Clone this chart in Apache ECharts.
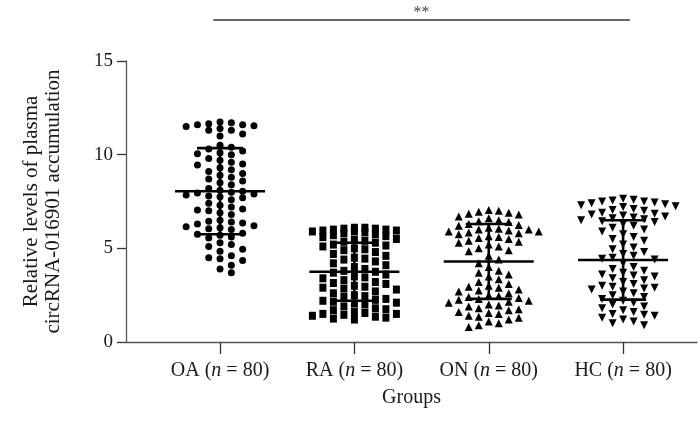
<!DOCTYPE html>
<html><head><meta charset="utf-8">
<script src="https://cdn.jsdelivr.net/npm/echarts@6/dist/echarts.min.js"></script>
<style>html,body{margin:0;padding:0;background:#fff}#c{width:698px;height:436px}</style>
</head><body><div id="c"></div>
<script>
// ---- data ----
const groups = ['OA', 'RA', 'ON', 'HC'];
const groupN = [80, 80, 80, 80];
const oaValues = [11.75, 11.7, 11.65, 11.6, 11.6, 11.55, 11.5, 11.4, 11.3, 11.3, 11.1, 11.0,
  10.5, 10.4, 10.3, 10.2, 10.1, 10.05, 10.0,
  9.8, 9.7, 9.6, 9.5, 9.45, 9.3, 9.2, 9.1, 9.0, 8.9, 8.8, 8.7, 8.6, 8.5, 8.4,
  8.2, 8.1, 8.05, 8.0, 7.95, 7.9, 7.85, 7.8, 7.75, 7.7, 7.6,
  7.4, 7.3, 7.2, 7.1, 7.05, 7.0, 6.9, 6.8,
  6.5, 6.45, 6.4, 6.35, 6.3, 6.2, 6.15, 6.1, 6.05, 6.0,
  5.8, 5.75, 5.7, 5.6, 5.55,
  5.3, 5.2, 5.1, 4.95, 4.85,
  4.6, 4.5, 4.45, 4.35,
  4.1, 3.9, 3.7];
const raValues = [6.1, 6.1, 6.05, 6.05, 6.0, 6.0, 5.95, 5.95, 5.9, 5.9, 5.85, 5.8,
  5.75, 5.7, 5.65, 5.6, 5.5, 5.45, 5.4, 5.35, 5.3,
  5.2, 5.15, 5.1, 5.0, 4.95, 4.9, 4.8, 4.7, 4.6, 4.5, 4.45,
  4.4, 4.3, 4.2, 4.1, 4.0, 3.9, 3.8, 3.75, 3.7, 3.6,
  3.5, 3.45, 3.4, 3.3, 3.2, 3.15, 3.1, 3.0, 2.95, 2.9, 2.85, 2.8,
  2.7, 2.6, 2.5, 2.45, 2.4, 2.3, 2.25, 2.2, 2.15, 2.1, 2.05, 2.0,
  1.9, 1.8, 1.75, 1.7, 1.6, 1.55, 1.5, 1.5, 1.45, 1.4, 1.35, 1.3, 1.25, 1.2];
const onValues = [7.05, 7.0, 6.95, 6.9, 6.85, 6.8, 6.7, 6.6,
  6.5, 6.45, 6.4, 6.3, 6.25, 6.2, 6.1, 6.05, 6.0, 6.0, 5.95, 5.9, 5.9, 5.85, 5.8, 5.75,
  5.65, 5.6, 5.55, 5.5, 5.4, 5.35, 5.3, 5.2, 5.1, 5.0, 4.9, 4.85,
  4.6, 4.4, 4.2, 4.0,
  3.8, 3.7, 3.6, 3.5, 3.35, 3.2,
  3.1, 3.0, 2.95, 2.9, 2.8, 2.75, 2.7, 2.6,
  2.5, 2.45, 2.4, 2.35, 2.3, 2.25, 2.2, 2.15, 2.1,
  2.0, 1.95, 1.9, 1.8, 1.75, 1.7, 1.6, 1.55, 1.5, 1.4, 1.35, 1.3, 1.2,
  1.1, 1.0, 0.9, 0.8];
const hcValues = [7.65, 7.6, 7.55, 7.5, 7.5, 7.45, 7.4, 7.35, 7.3, 7.25, 7.2, 7.1, 7.05, 7.0,
  6.9, 6.85, 6.8, 6.75, 6.7, 6.65, 6.6, 6.55, 6.5, 6.45, 6.4, 6.3,
  6.2, 6.1, 6.0, 5.9, 5.75, 5.6,
  5.5, 5.4, 5.2, 5.05, 4.95, 4.8,
  4.7, 4.6, 4.5, 4.45, 4.4, 4.2,
  4.0, 3.9, 3.8, 3.7, 3.6, 3.55, 3.5, 3.4, 3.3,
  3.2, 3.1, 3.0, 2.95, 2.9, 2.85, 2.8, 2.7, 2.6,
  2.5, 2.4, 2.3, 2.2, 2.1, 2.0,
  1.9, 1.8, 1.7, 1.6, 1.5, 1.45, 1.4, 1.3, 1.2, 1.1, 1.0, 0.9];
const groupMeans = [8.05, 3.75, 4.3, 4.38];
const groupSDs = [2.3, 1.55, 2.0, 2.12];
const yTicks = [0, 5, 10, 15];
const significanceText = '**';
const yAxisTitle = 'Relative levels of plasma\ncircRNA-016901 accumulation';
const xAxisTitle = 'Groups';

// ---- layout / style ----
const FONT = '"Liberation Serif", "DejaVu Serif", serif';
const GRID = {left: 126, right: 1, top: 61, bottom: 94};
const W = 698, H = 436;
const X_MIN = 0.3, X_MAX = 4.55;
const pxPerX = (W - GRID.left - GRID.right) / (X_MAX - X_MIN);
const pxPerY = (H - GRID.top - GRID.bottom) / (yTicks[yTicks.length - 1] - yTicks[0]);

// column (beeswarm-like) placement computed from values
function swarm(values, center, colPx, minDyPx, maxK) {
  const sorted = values.slice().sort((a, b) => b - a);
  const placed = [];
  const out = [];
  const order = [0];
  for (let k = 1; k <= maxK; k++) order.push(k, -k);
  sorted.forEach(v => {
    let best = null, bestD = -1;
    for (const k of order) {
      let d = Infinity;
      placed.forEach(p => { if (p.k === k) d = Math.min(d, Math.abs(p.v - v) * pxPerY); });
      if (d >= minDyPx) { best = k; break; }
      if (d > bestD + 0.3) { bestD = d; best = k; }
    }
    placed.push({k: best, v});
    out.push([center + best * colPx / pxPerX, v]);
  });
  return out;
}

const allValues = [oaValues, raValues, onValues, hcValues];
const symbols = ['circle', 'rect', 'triangle', 'triangle'];
const symRot = [0, 0, 0, 180];
const symSize = [[7, 7], [7, 8], [8, 8], [8, 8]];
const colPx = [11.3, 10.5, 10, 10.5];
const minDy = [7, 8, 7.5, 7.5];
const maxCols = [3, 4, 5, 5];

const series = allValues.map((vals, i) => ({
  type: 'scatter',
  name: groups[i],
  data: swarm(vals, i + 1, colPx[i], minDy[i], maxCols[i]),
  symbol: symbols[i],
  symbolRotate: symRot[i],
  symbolSize: symSize[i],
  itemStyle: {color: '#000', opacity: 1},
  silent: true,
  z: 2
}));

series.push({
  type: 'custom',
  z: 5,
  silent: true,
  data: groups.map((g, i) => [i + 1, groupMeans[i], groupMeans[i] - groupSDs[i], groupMeans[i] + groupSDs[i]]),
  renderItem(params, api) {
    const c = api.coord([api.value(0), api.value(1)]);
    const lo = api.coord([api.value(0), api.value(2)]);
    const hi = api.coord([api.value(0), api.value(3)]);
    const mw = 45, cw = 23;
    const st = {stroke: '#000', lineWidth: 2.6};
    return {type: 'group', children: [
      {type: 'line', shape: {x1: c[0] - mw, y1: c[1], x2: c[0] + mw, y2: c[1]}, style: st},
      {type: 'line', shape: {x1: c[0], y1: hi[1], x2: c[0], y2: lo[1]}, style: st},
      {type: 'line', shape: {x1: c[0] - cw, y1: hi[1], x2: c[0] + cw, y2: hi[1]}, style: st},
      {type: 'line', shape: {x1: c[0] - cw, y1: lo[1], x2: c[0] + cw, y2: lo[1]}, style: st}
    ]};
  }
});

const chart = echarts.init(document.getElementById('c'), null, {renderer: 'canvas'});
const xLabelStyle = {fontFamily: FONT, fontSize: 20, color: '#1a1a1a'};
chart.setOption({
  animation: false,
  backgroundColor: '#fff',
  grid: GRID,
  xAxis: {
    type: 'value', min: X_MIN, max: X_MAX,
    name: xAxisTitle, nameLocation: 'middle', nameGap: 46,
    nameTextStyle: {fontFamily: FONT, fontSize: 20, color: '#1a1a1a'},
    axisLine: {show: true, lineStyle: {color: '#555', width: 1.3}},
    axisTick: {show: true, length: 12, customValues: [1, 2, 3, 4], lineStyle: {color: '#333', width: 1.3}},
    splitLine: {show: false},
    axisLabel: {
      customValues: [1, 2, 3, 4], margin: 19,
      formatter: v => { const i = Math.round(v) - 1; return '{t|' + groups[i] + ' (}{i|n}{t| = ' + groupN[i] + ')}'; },
      rich: {t: xLabelStyle, i: Object.assign({}, xLabelStyle, {fontStyle: 'italic'})}
    }
  },
  yAxis: {
    type: 'value', min: yTicks[0], max: yTicks[yTicks.length - 1], interval: 5,
    name: yAxisTitle, nameLocation: 'middle', nameGap: 62,
    nameTextStyle: {fontFamily: FONT, fontSize: 21, color: '#1a1a1a', lineHeight: 22},
    axisLine: {show: true, lineStyle: {color: '#555', width: 1.3}},
    axisTick: {show: true, length: 9, lineStyle: {color: '#333', width: 1.3}},
    splitLine: {show: false},
    axisLabel: {margin: 13, fontFamily: FONT, fontSize: 19, color: '#1a1a1a'}
  },
  series
});

// significance bracket across groups OA..HC
const xa = chart.convertToPixel({xAxisIndex: 0}, 0.95);
const xb = chart.convertToPixel({xAxisIndex: 0}, 4.05);
chart.setOption({
  graphic: [
    {type: 'line', shape: {x1: xa, y1: 20, x2: xb, y2: 20}, style: {stroke: '#333', lineWidth: 1.5}},
    {type: 'text', x: (xa + xb) / 2, y: 13, style: {text: significanceText, fontFamily: FONT, fontSize: 16, fill: '#444', align: 'center', verticalAlign: 'middle'}}
  ]
});
</script>
</body></html>
